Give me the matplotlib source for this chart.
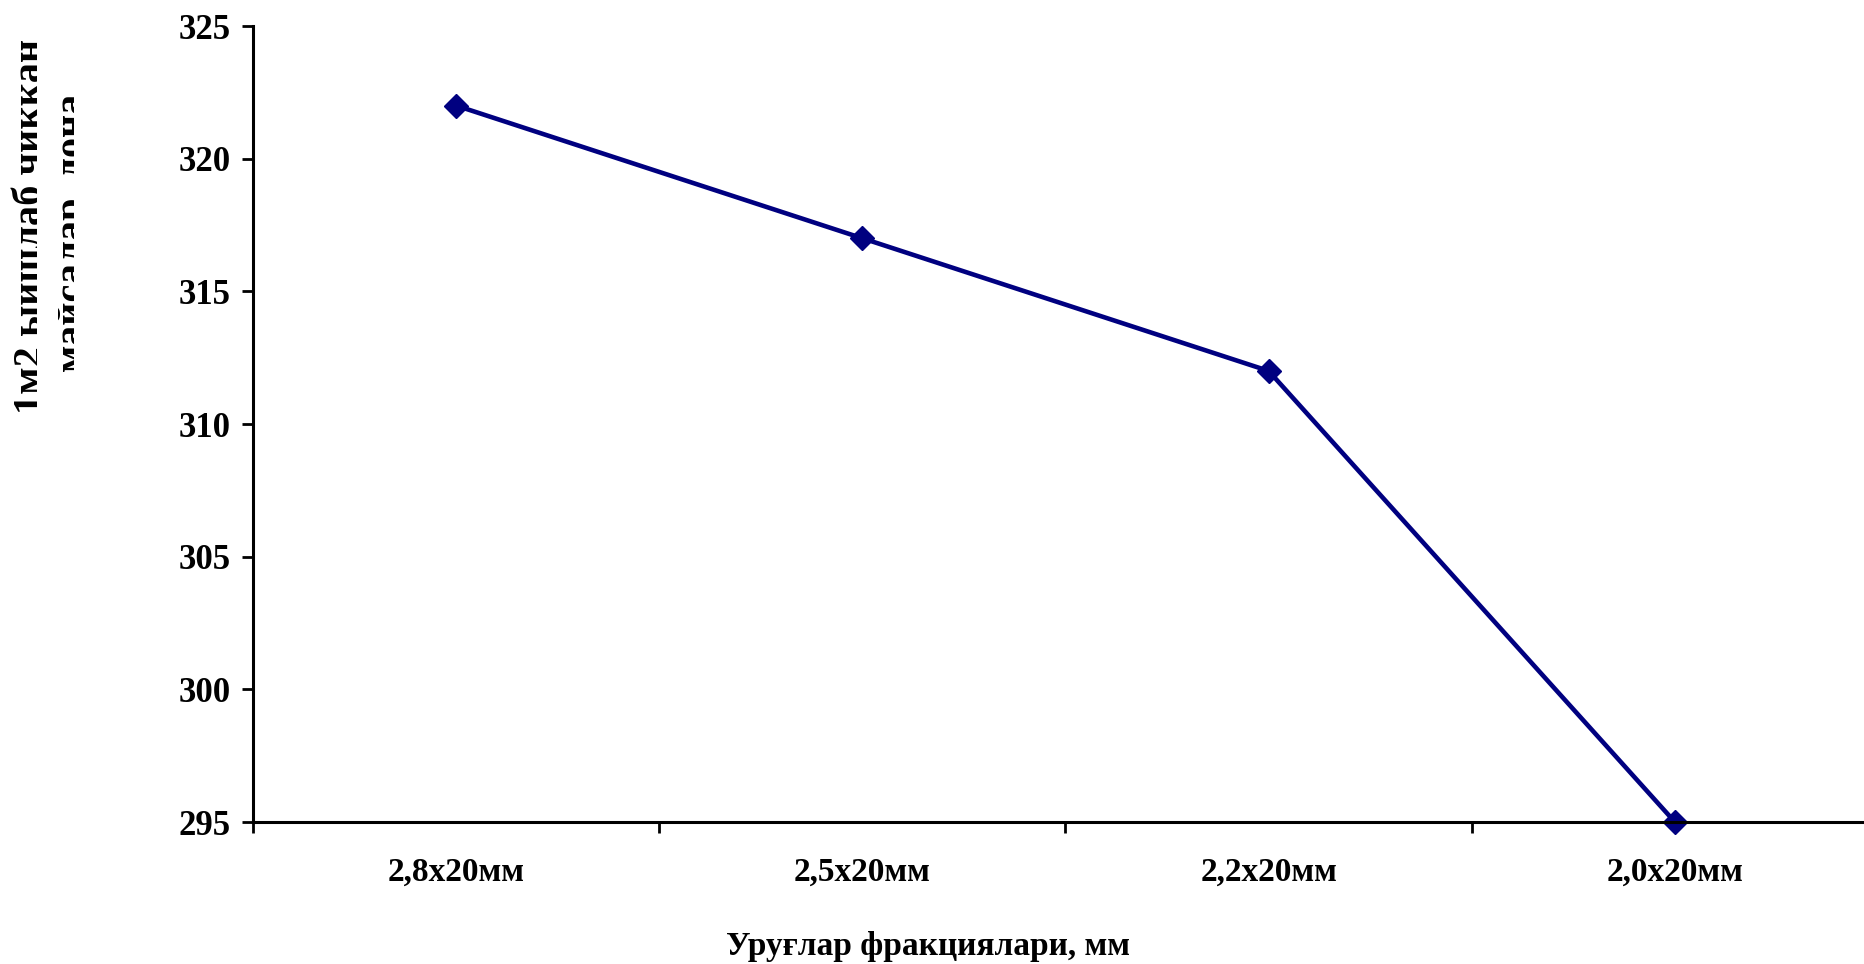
import matplotlib
matplotlib.use("Agg")
import matplotlib.pyplot as plt
from matplotlib.transforms import Bbox
import numpy as np

categories = ["2,8х20мм", "2,5х20мм", "2,2х20мм", "2,0х20мм"]
values = [322, 317, 312, 295]
y_ticks = [295, 300, 305, 310, 315, 320, 325]

plt.rcParams['font.family'] = ['Liberation Serif', 'DejaVu Serif']
plt.rcParams['font.weight'] = 'bold'

fig = plt.figure(figsize=(18.65, 9.64), dpi=100)
# the category axis runs a little past the right edge of the picture
ax = fig.add_axes([253/1865, 1 - 822/964, (1878 - 253)/1865, (822 - 26)/964])

x = np.arange(len(categories)) + 0.5
ax.plot(x, values, color='#000080', linewidth=3.3, marker='D', markersize=12,
        markerfacecolor='#000080', markeredgecolor='#000080', clip_on=False)

ax.set_xlim(0, len(categories))
ax.set_ylim(295, 325)
ax.set_yticks(y_ticks)
ax.set_yticklabels([str(v) for v in y_ticks], fontsize=25, fontweight='bold')

ax.set_xticks(np.arange(len(categories) + 1))
ax.set_xticklabels([])
ax.set_xticks(x, minor=True)
ax.set_xticklabels(categories, minor=True, fontsize=24, fontweight='bold')
ax.tick_params(axis='x', which='major', direction='out', length=8, width=2)
ax.tick_params(axis='x', which='minor', length=0, pad=25)
ax.tick_params(axis='y', direction='out', length=8, width=2, pad=8)

for s in ['top', 'right']:
    ax.spines[s].set_visible(False)
for s in ['left', 'bottom']:
    ax.spines[s].set_linewidth(2.2)

fig.text(928/1865, 1 - 946/964, "Уруғлар фракциялари, мм", fontsize=24,
         fontweight='bold', ha='center', va='center')

# y title: two rotated lines, cut off in the original chart box
t1 = fig.text(32/1865, 1 - 226/964, "1м2 ыишлаб чиққан", fontsize=29,
              fontweight='bold', rotation=90, ha='center', va='center')
t1.set_clip_box(Bbox.from_extents(0, 0, 37, 964))
t1.set_clip_on(True)
t2 = fig.text(74/1865, 1 - 233/964, "майсалар, дона", fontsize=29,
              fontweight='bold', rotation=90, ha='center', va='center')
t2.set_clip_box(Bbox.from_extents(58, 0, 74, 964))
t2.set_clip_on(True)

fig.savefig("out.png", dpi=100)
